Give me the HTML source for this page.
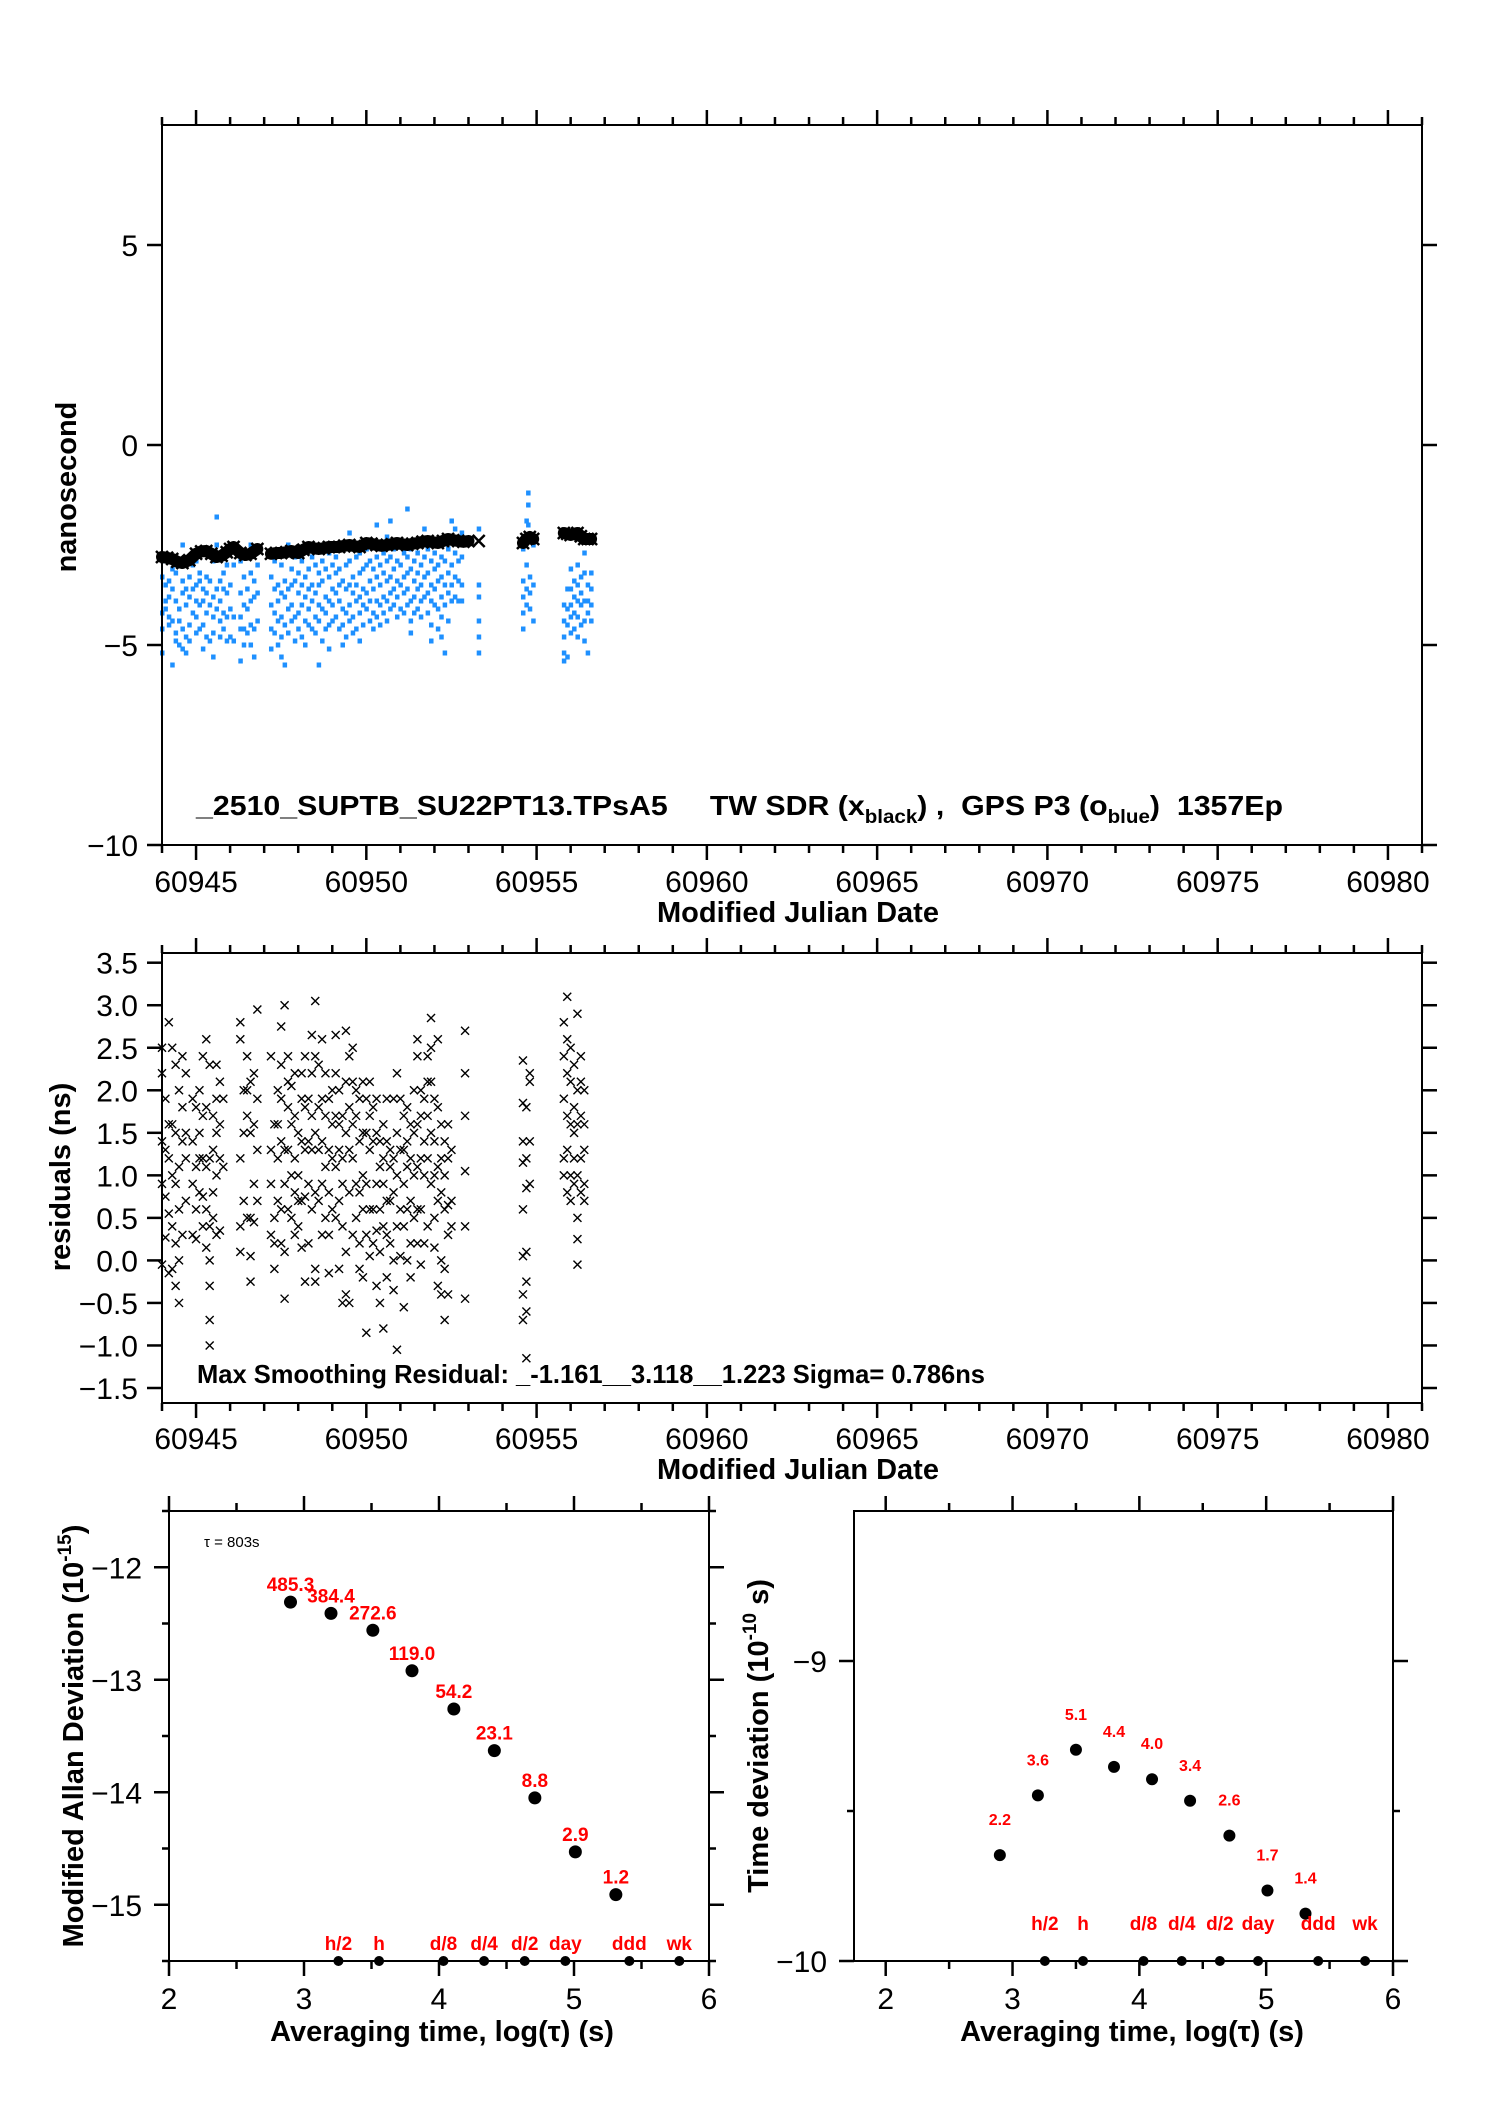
<!DOCTYPE html>
<html><head><meta charset="utf-8"><style>
html,body{margin:0;padding:0;background:#fff}
svg{display:block}
text{font-family:"Liberation Sans",sans-serif}
</style></head><body>
<svg id="fig" xmlns="http://www.w3.org/2000/svg" width="1488" height="2105" viewBox="0 0 1488 2105">
<rect x="0" y="0" width="1488" height="2105" fill="#fff"/>
<g id="g1"></g>
<g id="g2"></g>
<g id="g3"></g>
<g id="g4"></g>
</svg>
<script>
// ---------- data ----------
const blueX = [60944.0,60944.1,60944.2,60944.3,60944.4,60944.5,60944.6,60944.7,60944.8,60944.9,60945.0,60945.1,60945.2,60945.3,60945.4,60945.5,60945.6,60945.7,60945.8,60945.9,60946.0,60946.1,
60946.3,60946.4,60946.5,60946.6,60946.7,60946.8,
60947.2,60947.3,60947.4,60947.5,60947.6,60947.7,60947.8,60947.9,60948.0,60948.1,60948.2,60948.3,60948.4,60948.5,60948.6,60948.7,60948.8,60948.9,60949.0,60949.1,60949.2,60949.3,60949.4,60949.5,60949.6,60949.7,60949.8,60949.9,60950.0,60950.1,60950.2,60950.3,60950.4,60950.5,60950.6,60950.7,60950.8,60950.9,60951.0,60951.1,60951.2,60951.3,60951.4,60951.5,60951.6,60951.7,60951.8,60951.9,60952.0,60952.1,60952.2,60952.3,60952.4,60952.5,60952.6,60952.7,60952.8,60953.3,
60954.6,60954.7,60954.75,60954.8,60954.9,
60955.8,60955.9,60956.0,60956.1,60956.2,60956.3,60956.4,60956.5,60956.6];
const blueY = [[-3.3,-4.2,-4.6,-5.2],[-2.9,-3.5,-3.9,-4.1],[-3.4,-3.8,-4.3,-4.5],[-3.1,-3.6,-4.4,-5.5],[-3.2,-3.9,-4.7,-4.9],[-3.0,-4.1,-4.4,-5.0],[-2.5,-3.4,-3.7,-4.6,-5.1],[-3.6,-4.0,-4.8,-5.2],[-3.3,-3.8,-4.5,-4.9],[-3.0,-3.6,-4.2],[-2.9,-3.5,-3.9,-4.3,-4.7],[-3.2,-3.4,-4.0,-4.6],[-3.6,-3.9,-4.5,-5.1],[-3.3,-3.7,-4.2,-4.8],[-3.4,-4.0,-4.9],[-2.9,-3.8,-4.3,-4.7,-5.3],[-1.8,-2.5,-3.6,-4.1],[-3.4,-3.9,-4.4,-4.8],[-3.2,-3.6,-4.2,-4.6],[-3.0,-3.7,-4.3,-4.9],[-2.6,-3.5,-4.1,-4.8],[-3.0,-4.3,-4.9],
[-2.9,-3.7,-4.3,-4.6,-5.4],[-3.3,-4.0,-4.6,-5.0],[-3.6,-4.1,-4.7],[-2.5,-3.2,-3.9,-4.5,-5.0],[-2.7,-3.4,-3.8,-4.6,-5.3],[-2.6,-3.0,-3.7,-4.4],
[-3.3,-4.0,-4.6,-5.1],[-2.9,-3.6,-4.2,-4.7],[-3.5,-3.9,-4.4,-5.0],[-3.0,-3.7,-4.3,-4.8,-5.3],[-3.4,-3.8,-4.5,-5.5],[-2.5,-3.6,-4.1,-4.7],[-3.1,-3.5,-4.0,-4.4],[-2.8,-3.4,-4.3,-4.9],[-3.2,-3.7,-4.2,-4.6],[-2.9,-3.5,-4.0,-4.8],[-2.6,-3.3,-3.8,-4.4,-5.0],[-3.1,-3.6,-4.1,-4.5],[-2.8,-3.5,-3.9,-4.6],[-3.0,-3.7,-4.3,-4.7],[-3.2,-3.5,-4.0,-4.4,-5.5],[-2.9,-3.4,-4.1,-4.9],[-3.1,-3.8,-4.2,-4.6],[-2.7,-3.3,-3.9,-4.5,-5.1],[-3.0,-3.6,-4.0,-4.4],[-2.8,-3.2,-3.7,-4.3],[-3.1,-3.5,-3.9,-4.6],[-2.6,-3.4,-4.1,-4.5,-5.0],[-3.0,-3.6,-4.2,-4.8],[-2.2,-2.9,-3.5,-4.0,-4.4],[-3.3,-3.7,-4.3,-4.7],[-2.8,-3.5,-3.9,-4.6],[-2.7,-3.2,-3.8,-4.2,-4.9],[-3.1,-3.6,-4.0,-4.5],[-2.6,-3.0,-3.7,-4.1],[-2.9,-3.4,-3.9,-4.4],[-2.4,-3.1,-3.6,-4.2,-4.6],[-2.0,-2.8,-3.3,-3.9,-4.3],[-3.0,-3.5,-4.0,-4.5],[-2.7,-3.2,-3.8,-4.2],[-2.3,-2.9,-3.4,-3.9,-4.4],[-1.9,-2.8,-3.3,-3.7,-4.1],[-2.6,-3.1,-3.6,-4.0],[-2.9,-3.4,-3.8,-4.3],[-2.5,-3.0,-3.5,-4.1],[-2.7,-3.3,-3.7,-4.2],[-1.6,-2.8,-3.2,-3.6,-4.0],[-2.6,-3.1,-3.9,-4.4,-4.7],[-2.9,-3.4,-3.8,-4.2],[-2.7,-3.2,-3.6,-4.1],[-2.5,-3.0,-3.5,-3.9,-4.3],[-2.1,-2.8,-3.3,-3.8],[-2.6,-3.2,-3.7,-4.2],[-2.9,-3.5,-3.9,-4.5,-4.9],[-2.7,-3.1,-3.6,-4.0],[-2.5,-3.0,-3.4,-4.1,-4.6],[-2.8,-3.3,-3.8,-4.3,-4.8],[-2.3,-2.9,-3.5,-4.0,-5.2],[-2.6,-3.2,-3.7,-4.4],[-1.9,-2.4,-3.0,-3.5,-3.9],[-2.1,-2.7,-3.3,-3.8],[-2.4,-2.9,-3.4,-3.9],[-2.2,-2.8,-3.5,-3.9],[-2.1,-3.5,-3.8,-4.4,-4.8,-5.2],
[-2.6,-3.4,-3.8,-4.2,-4.6],[-1.9,-2.3,-3.0,-3.6,-4.0],[-1.2,-1.5,-2.0,-2.4],[-2.3,-3.3,-3.7,-4.1],[-2.5,-3.5,-4.4],
[-4.0,-4.4,-4.8,-5.2,-5.4],[-3.6,-4.1,-4.5,-5.3],[-3.1,-3.6,-4.0,-4.3,-4.7],[-3.4,-3.8,-4.2,-4.6],[-3.0,-3.5,-3.9,-4.3,-4.8],[-3.3,-3.7,-4.0,-4.5],[-2.7,-3.2,-3.9,-4.4,-4.9],[-3.5,-3.9,-4.2,-5.2],[-3.2,-3.6,-4.0,-4.4]];
const twX = [60944.0,60944.15,60944.3,60944.45,60944.6,60944.8,60945.0,60945.15,60945.3,60945.45,60945.6,60945.75,60945.9,60946.0,60946.1,
60946.3,60946.45,60946.6,60946.8,
60947.2,60947.35,60947.5,60947.65,60947.8,60948.0,60948.15,60948.3,60948.45,60948.6,60948.75,60948.9,60949.05,60949.2,60949.35,60949.5,60949.65,60949.8,60950.0,60950.15,60950.3,60950.45,60950.6,60950.75,60950.9,60951.05,60951.2,60951.35,60951.5,60951.65,60951.8,60951.95,60952.1,60952.25,60952.4,60952.55,60952.7,60952.85,60953.0,
60953.3,
60954.6,60954.7,60954.8,60954.9,
60955.8,60955.9,60956.0,60956.1,60956.2,60956.3,60956.4,60956.5,60956.6];
const twY = [-2.8,-2.82,-2.85,-2.92,-2.95,-2.88,-2.72,-2.66,-2.65,-2.72,-2.8,-2.77,-2.68,-2.6,-2.55,
-2.7,-2.75,-2.72,-2.6,
-2.72,-2.7,-2.7,-2.68,-2.65,-2.7,-2.62,-2.55,-2.58,-2.6,-2.58,-2.55,-2.55,-2.55,-2.52,-2.5,-2.53,-2.55,-2.45,-2.47,-2.5,-2.52,-2.5,-2.48,-2.45,-2.48,-2.5,-2.47,-2.45,-2.42,-2.4,-2.43,-2.45,-2.4,-2.35,-2.38,-2.4,-2.42,-2.4,
-2.4,
-2.45,-2.35,-2.3,-2.35,
-2.2,-2.22,-2.25,-2.22,-2.2,-2.28,-2.35,-2.35,-2.35];
const resX = [60944.0,60944.1,60944.2,60944.3,60944.4,60944.5,60944.6,60944.7,60944.9,60945.0,60945.1,60945.2,60945.3,60945.4,60945.5,60945.6,60945.7,60945.8,
60946.3,60946.4,60946.5,60946.6,60946.7,60946.8,
60947.2,60947.3,60947.4,60947.5,60947.6,60947.7,60947.8,60947.9,60948.0,60948.1,60948.2,60948.3,60948.4,60948.5,60948.6,60948.7,60948.8,60948.9,60949.0,60949.1,60949.2,60949.3,60949.4,60949.5,60949.6,60949.7,60949.8,60949.9,60950.0,60950.1,60950.2,60950.3,60950.4,60950.5,60950.6,60950.7,60950.8,60950.9,60951.0,60951.1,60951.2,60951.3,60951.4,60951.5,60951.6,60951.7,60951.8,60951.9,60952.0,60952.1,60952.2,60952.3,60952.4,60952.5,60952.9,
60954.6,60954.7,60954.8,
60955.8,60955.9,60956.0,60956.1,60956.2,60956.3,60956.4];
const resY = [[2.2,1.4,0.9,-0.05,2.5],[1.9,1.3,0.75,0.27],[2.8,1.6,0.55,1.2,-0.15],[2.5,1.6,1.0,0.4,-0.1],[2.3,1.5,0.9,0.2,-0.3],[2.0,1.1,0.6,0.0,-0.5],[2.4,1.8,1.4,0.3],[2.2,1.2,0.7,1.5],[1.9,1.4,0.9,0.3],[1.8,1.1,0.6,0.25],[2.0,1.5,1.2,0.8],[2.4,1.7,1.2,0.75,0.4],[2.6,1.8,1.1,0.6,0.15],[2.3,1.2,0.4,0.0,-0.3,-0.7,-1.0],[1.7,1.3,0.8,0.5],[2.3,1.9,1.5,1.0,0.3],[2.1,1.6,1.2,0.35],[1.9,1.1],
[2.8,2.6,1.2,0.4,0.1],[2.0,1.5,0.7],[2.4,2.0,1.7,0.5],[2.1,1.5,0.5,0.05,-0.25],[2.2,1.6,0.9,0.45],[2.95,1.9,1.3,0.7],
[2.4,1.3,0.9,0.3],[1.6,0.5,0.2,-0.1],[2.0,1.6,1.2,0.7],[2.75,2.3,1.9,1.4,0.6,0.2],[3.0,1.3,0.9,0.1,-0.45],[2.4,2.1,1.8,1.3,0.6],[2.05,1.6,1.0,0.5],[2.2,1.7,1.2,0.8,0.3],[1.5,1.0,0.7,0.4],[2.2,1.9,1.4,0.7,0.15],[2.4,1.8,1.3,0.75,-0.25],[1.9,1.4,0.9,0.2],[2.65,2.2,1.7,1.3,0.6],[3.05,2.4,1.5,0.8,-0.1,-0.25],[2.3,1.8,1.3,0.7],[2.6,1.9,1.4,0.9,0.3],[2.2,1.7,1.1,0.5],[1.9,1.3,0.8,0.3,-0.15],[2.0,1.6,1.2,0.6],[2.65,2.2,1.7,1.1,0.5],[2.0,1.6,1.3,0.7,-0.1],[1.7,1.2,0.9,0.4,-0.5],[2.7,2.1,1.5,0.1,-0.4],[2.4,1.8,1.3,0.8,-0.5],[2.5,2.1,1.6,1.2,0.3],[2.0,1.7,0.9,0.5],[1.9,1.4,0.8,0.2,-0.1],[2.1,1.5,1.0,0.6,-0.2],[1.9,1.5,0.9,0.3,-0.85],[2.1,1.7,1.3,0.6,0.05],[1.8,1.4,0.6,0.2],[1.9,1.5,0.9,0.35,-0.3],[1.4,1.1,0.6,0.1,-0.5],[1.6,1.2,0.9,0.4,-0.8],[1.9,1.4,0.7,0.3,-0.2],[1.3,1.1,0.7,0.2],[1.9,1.2,0.8,0.0,-0.35],[2.2,1.5,1.0,0.4,-1.05],[1.9,1.3,0.6,0.05],[1.7,1.3,0.9,0.4,-0.55],[1.8,1.4,1.1,0.6,0.0],[1.6,1.2,0.7,0.2,-0.2],[2.0,1.5,1.0,0.5],[2.6,2.4,1.6,1.1,0.6,0.2],[2.0,1.7,1.2,0.6,-0.05],[1.9,1.4,1.0,0.2],[2.4,2.1,1.7,1.2,0.4],[2.85,2.5,2.1,1.5,0.9],[1.9,1.4,1.0,0.5,0.15],[2.6,1.8,1.1,0.7,-0.3],[1.6,1.2,0.8,0.0,-0.4],[1.4,1.0,0.6,-0.1,-0.7],[1.6,1.2,0.65,0.3,-0.4],[1.3,0.7,0.4],[2.7,2.2,1.7,1.05,0.4,-0.45],
[2.35,1.85,1.4,1.15,0.6,0.05,-0.4,-0.7],[1.8,1.2,0.85,0.1,-0.25,-0.6,-1.15],[2.2,2.1,1.4,0.9],
[2.8,2.4,1.9,1.2,1.0],[3.1,2.6,2.2,1.7,1.3,0.8],[2.5,2.1,1.6,1.0,0.7],[2.3,1.8,1.5,1.2,0.9],[2.9,2.0,1.6,1.0,0.5,0.25,-0.05],[2.4,2.1,1.7,1.2,0.8],[2.0,1.6,1.3,0.9,0.7]];
const mdevTau = [2.90,3.20,3.51,3.80,4.11,4.41,4.71,5.01,5.31];
const mdevVal = [-12.31,-12.41,-12.56,-12.92,-13.26,-13.63,-14.05,-14.53,-14.91];
const mdevLabels = ["485.3","384.4","272.6","119.0","54.2","23.1","8.8","2.9","1.2"];
const tdevTau = [2.90,3.20,3.50,3.80,4.10,4.40,4.71,5.01,5.31];
const tdevVal = [-9.647,-9.448,-9.296,-9.353,-9.394,-9.466,-9.582,-9.765,-9.842];
const tdevLabels = ["2.2","3.6","5.1","4.4","4.0","3.4","2.6","1.7","1.4"];
const markTau = [3.255,3.556,4.033,4.334,4.635,4.936,5.41,5.78];
const markLabels = ["h/2","h","d/8","d/4","d/2","day","ddd","wk"];
const mjdTicks = [60945,60950,60955,60960,60965,60970,60975,60980];
const nsTicks = [5,0,-5,-10];
const resTicks = [3.5,3.0,2.5,2.0,1.5,1.0,0.5,0.0,-0.5,-1.0,-1.5];
const mdevYTicks = [-12,-13,-14,-15];
const tdevYTicks = [-9,-10];
const tauTicks = [2,3,4,5,6];

// ---------- helpers ----------
const NS='http://www.w3.org/2000/svg';
function mk(parent,tag,attrs,txt){const e=document.createElementNS(NS,tag);for(const k in attrs)e.setAttribute(k,attrs[k]);if(txt!==undefined)e.textContent=txt;parent.appendChild(e);return e;}
function lin(d0,d1,r0,r1){return v=>r0+(v-d0)*(r1-r0)/(d1-d0);}
function fmt(v){return (v<0?'\u2212':'')+Math.abs(v);}
function fmt1(v){return (v<0?'\u2212':'')+Math.abs(v).toFixed(1);}

function frame(g,L,T,R,B){
  const r=mk(g,'rect',{x:L,y:T,width:R-L,height:B-T,fill:'none',stroke:'#000','stroke-width':2});
  
  
}
function tick(g,x1,y1,x2,y2,name){
  const l=mk(g,'line',{x1:x1,y1:y1,x2:x2,y2:y2,stroke:'#000','stroke-width':2.5});
  
  
}
function label(g,x,y,s,size,anchor,weight,fill,name){
  const t=mk(g,'text',{x:x,y:y,'font-size':size,'text-anchor':anchor,'font-weight':weight,fill:fill},s);
  
  
  return t;
}
function xMark(g,cx,cy,s,w,name){
  const p=mk(g,'path',{d:`M${cx-s},${cy-s}L${cx+s},${cy+s}M${cx-s},${cy+s}L${cx+s},${cy-s}`,stroke:'#000','stroke-width':w,fill:'none'});
  
  
}

function mjdAxis(g,X,T,B,labelY,titleY){
  for(let d=60944; d<=60981; d++){
    const major=(d%5===0);
    const len=major?15:8;
    tick(g,X(d),T,X(d),T-len,major?'top-major-tick':'top-minor-tick');
    tick(g,X(d),B,X(d),B+len,major?'bottom-major-tick':'bottom-minor-tick');
  }
  mjdTicks.forEach(v=>label(g,X(v),labelY,String(v),30,'middle','normal','#000','x-tick-label'));
  label(g,798,titleY,'Modified Julian Date',29,'middle','bold','#000','x-axis-title');
}

// ---------- panel 1 ----------
(function(){
  const g=document.getElementById('g1');
  const L=162,R=1422,T=125,B=845;
  const X=lin(60944,60981,L,R), Y=lin(8,-10,T,B);
  blueX.forEach((x,i)=>blueY[i].forEach(v=>{
    const r=mk(g,'rect',{x:X(x)-2,y:Y(v)-2.5,width:4.5,height:5,fill:'#1e90ff'});
    
    
  }));
  let seg=[];
  const segs=[];
  twX.forEach((x,i)=>{ if(i>0 && x-twX[i-1]>0.25){segs.push(seg);seg=[];} seg.push([X(x),Y(twY[i])]); });
  segs.push(seg);
  segs.forEach(s=>{
    if(s.length>1){
      const p=mk(g,'polyline',{points:s.map(q=>q.join(',')).join(' '),fill:'none',stroke:'#000','stroke-width':12,'stroke-linejoin':'round','stroke-linecap':'round'});
      
      
    }
  });
  twX.forEach((x,i)=>xMark(g,X(x),Y(twY[i]),6,2.5,'tw-sdr-point'));
  frame(g,L,T,R,B);
  nsTicks.forEach(v=>{
    tick(g,L,Y(v),L-15,Y(v),'y-major-tick');
    tick(g,R,Y(v),R+15,Y(v),'y-major-tick-right');
    label(g,138,Y(v)+11,fmt(v),30,'end','normal','#000','y-tick-label');
  });
  mjdAxis(g,X,T,B,892,922);
  const yt=label(g,0,0,'nanosecond',29,'middle','bold','#000','y-axis-title');
  yt.setAttribute('transform','translate(76,487) rotate(-90)');
  const ann=mk(g,'text',{x:196,y:815,'font-size':28,'font-weight':'bold',fill:'#000',textLength:1087,lengthAdjust:'spacingAndGlyphs'});
  
  
  ann.innerHTML='_2510_SUPTB_SU22PT13.TPsA5\u00a0\u00a0\u00a0\u00a0\u00a0TW SDR (x<tspan font-size="19" dy="8">black</tspan><tspan dy="-8">) ,\u00a0\u00a0GPS P3 (o</tspan><tspan font-size="19" dy="8">blue</tspan><tspan dy="-8">)\u00a0\u00a01357Ep</tspan>';
})();

// ---------- panel 2 ----------
(function(){
  const g=document.getElementById('g2');
  const L=162,R=1422,T=953,B=1403;
  const X=lin(60944,60981,L,R), Y=lin(3.5,-1.5,962.7,1388);
  resX.forEach((x,i)=>resY[i].forEach(v=>xMark(g,X(x),Y(v),4,1.4,'residual-point')));
  frame(g,L,T,R,B);
  resTicks.forEach(v=>{
    tick(g,L,Y(v),L-15,Y(v),'y-major-tick');
    tick(g,R,Y(v),R+15,Y(v),'y-major-tick-right');
    label(g,138,Y(v)+11,fmt1(v),30,'end','normal','#000','y-tick-label');
  });
  mjdAxis(g,X,T,B,1449,1479);
  const yt=label(g,0,0,'residuals (ns)',29,'middle','bold','#000','y-axis-title');
  yt.setAttribute('transform','translate(70,1177) rotate(-90)');
  const t=label(g,197,1383,'Max Smoothing Residual: _-1.161__3.118__1.223  Sigma= 0.786ns',26,'start','bold','#000','residual-summary');
  t.setAttribute('textLength',788);
  t.setAttribute('lengthAdjust','spacingAndGlyphs');
  t.setAttribute('xml:space','preserve');
})();

// ---------- stability panels ----------
function stabPanel(g,L,R,xd0,yd0,yd1,yTicks,minorY,vals,taus,labs,labOff,labSize,markLblY,dotR){
  const T=1511,B=1961;
  const X=lin(xd0,6,L,R), Y=lin(yd1,yd0,T,B);
  frame(g,L,T,R,B);
  for(let v=2; v<=6.001; v+=0.5){
    const major=Math.abs(v-Math.round(v))<1e-6;
    tick(g,X(v),T,X(v),T-(major?15:8),major?'top-major-tick':'top-minor-tick');
    tick(g,X(v),B,X(v),B+(major?15:8),major?'bottom-major-tick':'bottom-minor-tick');
  }
  tauTicks.forEach(v=>label(g,X(v),2009,String(v),30,'middle','normal','#000','x-tick-label'));
  yTicks.forEach(v=>{
    tick(g,L,Y(v),L-15,Y(v),'y-major-tick');
    tick(g,R,Y(v),R+15,Y(v),'y-major-tick-right');
  });
  minorY.forEach(v=>{
    tick(g,L,Y(v),L-7,Y(v),'y-minor-tick');
    tick(g,R,Y(v),R+7,Y(v),'y-minor-tick-right');
  });
  taus.forEach((t,i)=>{
    const c=mk(g,'circle',{cx:X(t),cy:Y(vals[i]),r:dotR,fill:'#000'});
    
    
    label(g,X(t),Y(vals[i])-labOff,labs[i],labSize,'middle','bold','#ff0000','point-value-label');
  });
  markTau.forEach((t,i)=>{
    const c=mk(g,'circle',{cx:X(t),cy:B,r:5,fill:'#000'});
    
    
    label(g,X(t),markLblY,markLabels[i],19,'middle','bold','#ff0000','interval-label');
  });
  return {X,Y};
}
(function(){
  const g=document.getElementById('g3');
  const a=stabPanel(g,169,709,2,-15.5,-11.5,mdevYTicks,[-12.5,-13.5,-14.5,-11.5,-15.5],mdevVal,mdevTau,mdevLabels,11,19,1950,6.5);
  mdevYTicks.forEach(v=>label(g,142,a.Y(v)+11,fmt(v),30,'end','normal','#000','y-tick-label'));
  label(g,442,2041,'Averaging time, log(\u03c4) (s)',29,'middle','bold','#000','x-axis-title');
  label(g,204,1547,'\u03c4 = 803s',15,'start','normal','#000','tau-annotation');
  const yt=mk(g,'text',{'font-size':29,'font-weight':'bold','text-anchor':'middle',fill:'#000',transform:'translate(83,1736) rotate(-90)'});
  
  
  yt.innerHTML='Modified Allan Deviation (10<tspan font-size="19" dy="-12">-15</tspan><tspan dy="12">)</tspan>';
})();
(function(){
  const g=document.getElementById('g4');
  const a=stabPanel(g,854,1393,1.75,-10,-8.5,tdevYTicks,[-9.5],tdevVal,tdevTau,tdevLabels,30,16,1930,6);
  tdevYTicks.forEach(v=>label(g,827,a.Y(v)+11,fmt(v),30,'end','normal','#000','y-tick-label'));
  label(g,1132,2041,'Averaging time, log(\u03c4) (s)',29,'middle','bold','#000','x-axis-title');
  const yt=mk(g,'text',{'font-size':29,'font-weight':'bold','text-anchor':'middle',fill:'#000',transform:'translate(768,1736) rotate(-90)'});
  
  
  yt.innerHTML='Time deviation (10<tspan font-size="19" dy="-12">-10</tspan><tspan dy="12"> s)</tspan>';
})();
</script>
</body></html>
